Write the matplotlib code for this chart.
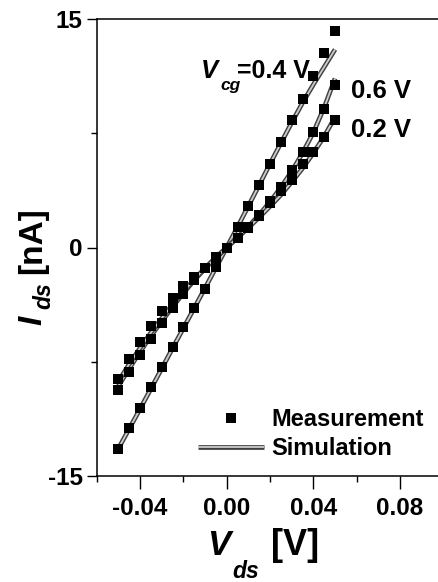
import matplotlib
matplotlib.use("Agg")
import matplotlib.pyplot as plt
import matplotlib.patheffects as pe
from matplotlib.ticker import FixedLocator

plt.rcParams['font.family'] = ['Liberation Sans', 'DejaVu Sans']
plt.rcParams['font.weight'] = 'bold'

# ---- data ----
vds = [-0.05, -0.045, -0.04, -0.035, -0.03, -0.025, -0.02, -0.015, -0.01, -0.005,
       0.0, 0.005, 0.01, 0.015, 0.02, 0.025, 0.03, 0.035, 0.04, 0.045, 0.05]

meas_04 = [-13.2, -11.85, -10.55, -9.15, -7.85, -6.55, -5.25, -4.0, -2.7, -1.3,
           0.0, 1.35, 2.75, 4.1, 5.5, 6.9, 8.35, 9.75, 11.25, 12.75, 14.2]
meas_06 = [-9.35, -8.2, -7.05, -6.0, -4.95, -3.95, -3.05, -2.15, -1.35, -0.65,
           0.0, 0.65, 1.35, 2.15, 3.05, 4.0, 5.1, 6.3, 7.6, 9.1, 10.65]
meas_02 = [-8.65, -7.35, -6.2, -5.15, -4.2, -3.3, -2.55, -1.95, -1.35, -0.65,
           0.0, 0.65, 1.3, 2.05, 2.95, 3.7, 4.45, 5.45, 6.3, 7.25, 8.35]

sim_04 = [-13.2, -11.9, -10.6, -9.28, -7.95, -6.62, -5.3, -3.98, -2.66, -1.33,
          0.0, 1.35, 2.72, 4.1, 5.5, 6.85, 8.2, 9.5, 10.7, 11.85, 13.0]
sim_06 = [-9.1, -7.95, -6.85, -5.8, -4.85, -3.9, -3.0, -2.15, -1.38, -0.67,
          0.0, 0.67, 1.38, 2.15, 3.0, 3.95, 5.0, 6.2, 7.55, 9.2, 11.1]
sim_02 = [-8.8, -7.65, -6.6, -5.6, -4.65, -3.75, -2.9, -2.1, -1.35, -0.66,
          0.0, 0.64, 1.3, 1.98, 2.7, 3.45, 4.3, 5.2, 6.2, 7.3, 8.55]

x_major = [-0.04, 0.0, 0.04, 0.08]
x_major_labels = ['-0.04', '0.00', '0.04', '0.08']
x_minor = [-0.06, -0.02, 0.02, 0.06]
y_major = [-15, 0, 15]
y_major_labels = ['-15', '0', '15']
y_minor = [-7.5, 7.5]

W, H = 438, 582
fig = plt.figure(figsize=(W / 100, H / 100), dpi=100)
ax = fig.add_axes([96.7 / W, 1 - 476 / H, 346.7 / W, 457 / H])
ax.set_xlim(-0.06, 0.10)
ax.set_ylim(-15, 15)

sim_pe = [pe.Stroke(linewidth=3.4, foreground='#404040'), pe.Normal()]
for s in (sim_04, sim_06, sim_02):
    ln, = ax.plot(vds, s, color='#cccccc', lw=1.3, solid_capstyle='butt',
                  path_effects=sim_pe, zorder=2)
sim_handle = ln
for m in (meas_04, meas_06, meas_02):
    mk, = ax.plot(vds, m, ls='none', marker='s', ms=7.6, color='black',
                  markeredgewidth=0, zorder=3)
meas_handle = mk

ax.spines['right'].set_visible(False)
for sp in ax.spines.values():
    sp.set_linewidth(1.1)

ax.xaxis.set_major_locator(FixedLocator(x_major))
ax.set_xticklabels(x_major_labels)
ax.xaxis.set_minor_locator(FixedLocator(x_minor))
ax.yaxis.set_major_locator(FixedLocator(y_major))
ax.set_yticklabels(y_major_labels)
ax.yaxis.set_minor_locator(FixedLocator(y_minor))
ax.tick_params(axis='x', which='major', direction='out', length=9, width=1.0,
               pad=6, labelsize=17.5)
ax.tick_params(axis='x', which='minor', direction='out', length=4.5, width=1.0)
ax.tick_params(axis='y', which='major', direction='out', length=7, width=1.0,
               pad=3, labelsize=17.5)
ax.tick_params(axis='y', which='minor', direction='out', length=4.5, width=1.0)
for lab in ax.get_xticklabels() + ax.get_yticklabels():
    lab.set_fontweight('bold')


def ftxt(px, py, s, **kw):
    fig.text(px / W, 1 - py / H, s, **kw)


# curve annotations
ftxt(201, 78, 'V', fontsize=18.5, fontweight='bold', style='italic', va='baseline')
ftxt(220, 90, 'cg', fontsize=12.5, fontweight='bold', style='italic', va='baseline')
ftxt(237, 78, '=0.4 V', fontsize=18, fontweight='bold', va='baseline')
ftxt(351, 98, '0.6 V', fontsize=18.5, fontweight='bold', va='baseline')
ftxt(351, 137, '0.2 V', fontsize=18.5, fontweight='bold', va='baseline')

# axis labels
ftxt(207, 555, 'V', fontsize=25, fontweight='bold', style='italic', va='baseline')
ftxt(232, 578, 'ds', fontsize=16.5, fontweight='bold', style='italic', va='baseline')
ftxt(271, 555, '[V]', fontsize=26, fontweight='bold', va='baseline')

ftxt(41, 325, 'I', fontsize=24, fontweight='bold', style='italic', rotation=90,
     ha='left', va='baseline', rotation_mode='anchor')
ftxt(50, 309, 'ds', fontsize=16.5, fontweight='bold', style='italic', rotation=90,
     ha='left', va='baseline', rotation_mode='anchor')
ftxt(41, 274, '[nA]', fontsize=24, fontweight='bold', rotation=90,
     ha='left', va='baseline', rotation_mode='anchor')

leg = fig.legend([meas_handle, sim_handle], ['Measurement', 'Simulation'],
                 loc='upper left', bbox_to_anchor=(186 / W, 1 - 396 / H),
                 bbox_transform=fig.transFigure, frameon=False, borderpad=0,
                 handlelength=2.8, handletextpad=0.3, labelspacing=0.28,
                 prop={'size': 17, 'weight': 'bold'})

fig.savefig('out.png', dpi=100)
